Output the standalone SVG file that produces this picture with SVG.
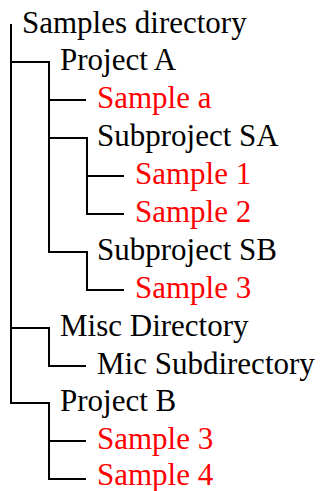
<svg xmlns="http://www.w3.org/2000/svg" width="320" height="491" viewBox="0 0 320 491">
<style>
#connectors path{fill:none;stroke:#000;stroke-width:2;stroke-linejoin:miter;stroke-linecap:butt}
</style>
<rect width="320" height="491" fill="#fff"/>
<g id="connectors">
<path d="M11,24 V403 H49 V479 H86"/>
<path d="M11,62 H49 V252 H86"/>
<path d="M11,328 H49 V366 H86"/>
<path d="M49,100 H86"/>
<path d="M49,138 H87 V214 H124"/>
<path d="M87,176 H124"/>
<path d="M86,252 H87 V290 H124"/>
<path d="M49,441 H86"/>
</g>
<g id="n-samples-directory"><text x="22" y="33" font-family="Liberation Serif" font-size="31" fill="#000">Samples directory</text></g>
<g id="n-project-a"><text x="60" y="70" font-family="Liberation Serif" font-size="31" fill="#000">Project A</text></g>
<g id="n-sample-a"><text x="97" y="108" font-family="Liberation Serif" font-size="31" fill="#ff0000">Sample a</text></g>
<g id="n-subproject-sa"><text x="97" y="146" font-family="Liberation Serif" font-size="31" fill="#000">Subproject SA</text></g>
<g id="n-sample-1"><text x="135" y="184" font-family="Liberation Serif" font-size="31" fill="#ff0000">Sample 1</text></g>
<g id="n-sample-2"><text x="135" y="222" font-family="Liberation Serif" font-size="31" fill="#ff0000">Sample 2</text></g>
<g id="n-subproject-sb"><text x="97" y="260" font-family="Liberation Serif" font-size="31" fill="#000">Subproject SB</text></g>
<g id="n-sample-3a"><text x="135" y="298" font-family="Liberation Serif" font-size="31" fill="#ff0000">Sample 3</text></g>
<g id="n-misc-directory"><text x="60" y="336" font-family="Liberation Serif" font-size="31" fill="#000">Misc Directory</text></g>
<g id="n-mic-subdirectory"><text x="97" y="374" font-family="Liberation Serif" font-size="31" fill="#000">Mic Subdirectory</text></g>
<g id="n-project-b"><text x="60" y="411" font-family="Liberation Serif" font-size="31" fill="#000">Project B</text></g>
<g id="n-sample-3b"><text x="97" y="449" font-family="Liberation Serif" font-size="31" fill="#ff0000">Sample 3</text></g>
<g id="n-sample-4"><text x="97" y="485" font-family="Liberation Serif" font-size="31" fill="#ff0000">Sample 4</text></g>
</svg>
